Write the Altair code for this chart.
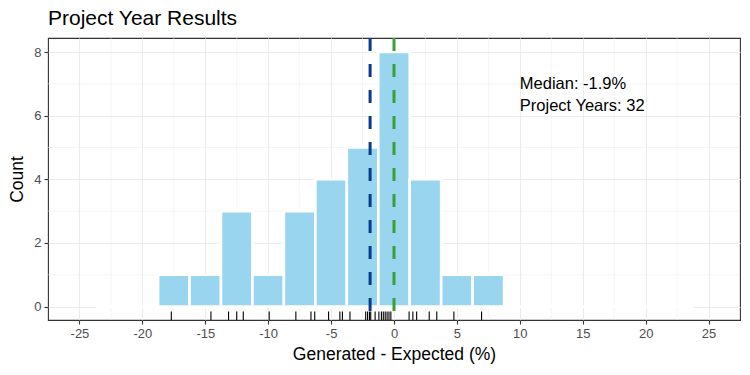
import altair as alt
import pandas as pd

# ---- data ----
bin_centers = [-22.5, -20.0, -17.5, -15.0, -12.5, -10.0, -7.5, -5.0, -2.5, 0.0,
               2.5, 5.0, 7.5, 10.0, 12.5, 15.0, 17.5, 20.0, 22.5]
counts = [0, 0, 1, 1, 3, 1, 3, 4, 5, 8, 4, 1, 1, 0, 0, 0, 0, 0, 0]
bin_width = 2.5

rug_values = [-17.7, -14.55, -13.15, -12.5, -11.98, -9.92, -7.8, -6.6, -6.3,
              -5.2, -4.3, -4.1, -3.5, -2.25, -2.1, -1.95, -1.85, -1.5,
              -1.2, -1.0, -0.85, -0.7, -0.55, -0.4, -0.25, 1.2,
              1.5, 1.8, 2.8, 3.4, 4.76, 6.96]

median_value = -1.9
reference_value = 0.0

annot_x = [10.0, 10.0]
annot_y = [7.0, 6.3]
annot_labels = ["Median: -1.9%", "Project Years: 32"]

title_text = "Project Year Results"

x_ticks = [-25, -20, -15, -10, -5, 0, 5, 10, 15, 20, 25]
x_minor = [-22.5, -17.5, -12.5, -7.5, -2.5, 2.5, 7.5, 12.5, 17.5, 22.5]
y_ticks = [0, 2, 4, 6, 8]
y_minor = [1, 3, 5, 7]

# ---- layout ----
FONT = "Liberation Sans"
PW, PH = 692, 282
x_scale = alt.Scale(domain=[-27.5, 27.5], nice=False, zero=False)
y_scale = alt.Scale(domain=[-0.42, 8.44], nice=False, zero=False)
x_axis = alt.Axis(values=x_ticks, title="Generated - Expected (%)", grid=True,
                  labelExpr="'' + datum.value")
y_axis = alt.Axis(values=y_ticks, title="Count", grid=True,
                  labelExpr="'' + datum.value")

def X(field):
    return alt.X(field, type="quantitative", scale=x_scale, axis=x_axis)

def Y(field):
    return alt.Y(field, type="quantitative", scale=y_scale, axis=y_axis)

bars_df = pd.DataFrame({"center": bin_centers, "count": counts})
bars_df["x0"] = bars_df["center"] - bin_width / 2
bars_df["x1"] = bars_df["center"] + bin_width / 2
bars_df["base"] = 0

rug_df = pd.DataFrame({"v": rug_values})
xminor_df = pd.DataFrame({"v": x_minor})
yminor_df = pd.DataFrame({"v": y_minor})
med_df = pd.DataFrame({"v": [median_value]})
ref_df = pd.DataFrame({"v": [reference_value]})
txt_df = pd.DataFrame({"x": annot_x, "y": annot_y, "label": annot_labels})
title_df = pd.DataFrame({"label": [title_text]})

minor_x = alt.Chart(xminor_df).mark_rule(color="#ebebeb", strokeWidth=0.55).encode(x=X("v"))
minor_y = alt.Chart(yminor_df).mark_rule(color="#ebebeb", strokeWidth=0.55).encode(y=Y("v"))

bars = alt.Chart(bars_df).mark_rect(
    fill="#99d5ef", stroke="white", strokeWidth=2.6
).encode(x=X("x0"), x2="x1", y=Y("count"), y2="base")

rug = alt.Chart(rug_df).mark_rule(color="black", strokeWidth=1.1).encode(
    x=X("v"), y=alt.value(PH - 8.5), y2=alt.value(PH)
)

med = alt.Chart(med_df).mark_rule(
    color="#0a3a8f", strokeWidth=3, strokeDash=[13, 13]
).encode(x=X("v"), y=alt.value(0), y2=alt.value(PH))

ref = alt.Chart(ref_df).mark_rule(
    color="#3a9f35", strokeWidth=3, strokeDash=[13, 13]
).encode(x=X("v"), y=alt.value(0), y2=alt.value(PH))

txt = alt.Chart(txt_df).mark_text(
    align="left", baseline="middle", fontSize=16.5, font=FONT, color="black"
).encode(x=X("x"), y=Y("y"), text="label:N")

title = alt.Chart(title_df).mark_text(
    align="left", baseline="alphabetic", fontSize=21, font=FONT, color="black"
).encode(x=alt.value(0), y=alt.value(-13), text="label:N")

chart = alt.layer(minor_x, minor_y, bars, rug, med, ref, txt, title).properties(
    width=PW,
    height=PH,
    autosize=alt.AutoSizeParams(type="none"),
    padding={"left": 48, "top": 38, "right": 10, "bottom": 55},
).configure_view(
    stroke="#333333", strokeWidth=1.1
).configure_axis(
    domain=False,
    gridColor="#ebebeb",
    gridWidth=1.1,
    tickColor="#333333",
    tickSize=4,
    tickWidth=1.1,
    labelColor="#4d4d4d",
    labelFont=FONT,
    labelFontSize=13,
    titleFont=FONT,
    titleFontSize=17.5,
    titleFontWeight="normal",
    titleColor="black",
).configure_axisX(
    labelPadding=3, titlePadding=5
).configure_axisY(
    labelPadding=3, titlePadding=7
)

chart.save("out.html", embed_options={"renderer": "svg", "actions": False})
